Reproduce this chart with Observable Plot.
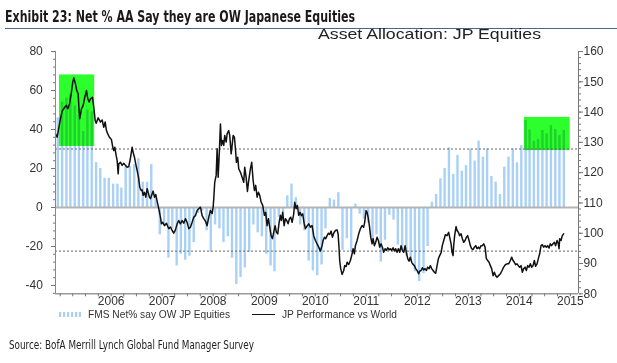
<!DOCTYPE html>
<html><head><meta charset="utf-8">
<script src="https://cdn.jsdelivr.net/npm/d3@7"></script>
<script src="https://cdn.jsdelivr.net/npm/@observablehq/plot@0.6"></script>
<style>
body{margin:0;background:#fff;width:617px;height:363px;position:relative;overflow:hidden;font-family:"Liberation Sans",Arial,sans-serif;color:#333}
.abs{position:absolute;white-space:nowrap;transform-origin:0 0}
#title{left:5px;top:8.5px;font-weight:bold;font-size:16px;line-height:16px;font-family:"Liberation Sans Narrow","DejaVu Sans Condensed",sans-serif;color:#1a1a1a}
#rule{left:5px;top:28px;width:612px;height:0;border-top:1px solid #4a6490}
#subtitle{left:318px;top:26.3px;font-size:15px;line-height:15px;color:#222}
#chart{left:0;top:40px}
#leg1sw{left:59px;top:311.5px;line-height:0}
#leg1sw svg{display:block}
#leg1{left:87.7px;top:310px;font-size:10px;line-height:10px;color:#333}
#leg2sw{left:252px;top:313.5px;width:23px;height:0;border-top:1.5px solid #111}
#leg2{left:281.7px;top:310px;font-size:10px;line-height:10px;color:#333}
#source{left:8.7px;top:337.7px;font-size:12.5px;line-height:13px;font-family:"Liberation Sans Narrow","DejaVu Sans Condensed",sans-serif;color:#222}
</style></head>
<body>
<div id="title" class="abs">Exhibit 23: Net % AA Say they are OW Japanese Equities</div>
<div id="rule" class="abs"></div>
<div id="subtitle" class="abs">Asset Allocation: JP Equities</div>
<div id="chart" class="abs"></div>
<div id="leg1sw" class="abs"><svg width="22" height="5"><g fill="#a9d1f7"><rect x="0" y="0" width="2.2" height="5"/><rect x="4" y="0" width="2.2" height="5"/><rect x="8" y="0" width="2.2" height="5"/><rect x="12" y="0" width="2.2" height="5"/><rect x="16" y="0" width="2.2" height="5"/><rect x="19.8" y="0" width="2.2" height="5"/></g></svg></div>
<div id="leg1" class="abs">FMS Net% say OW JP Equities</div>
<div id="leg2sw" class="abs"></div>
<div id="leg2" class="abs">JP Performance vs World</div>
<div id="source" class="abs">Source: BofA Merrill Lynch Global Fund Manager Survey</div>
<script>
// FMS net % overweight Japanese equities, monthly from Dec 2004 to Nov 2014
const fmsFirstMonth = [2004, 11];
const fmsValues = [46,54,56,58,52,47,39,50,49,23,20,15,15,12,12,10,21,21,22,25,13,13,22,6,-14,-9,-26,-11,-30,-24,-27,-25,-18,-3,-2,-12,-23,-9,-11,-18,-15,-26,-39.5,-36,-31,-23,-9,-13,-15,-24,-30,-33,-5,-4,6,12,5,-9,-12,-27.5,-32.5,-35,-29.5,-11,4.6,3.8,7.6,-22,-16,-23,1.7,-3.4,-6,-8,-18.5,-14,-28,-16.8,-4,-6.5,-19.3,-22,-25,-27.8,-33,-38,-34,-20,2.7,6.7,14.7,20,30.6,17,26.7,18.6,21.5,30,23.8,34,25.8,30,15.9,13,6.7,20.7,25.8,30,22.9,31.8,44.6,39.8,34,34.9,39.5,37.8,42,40,37,39.5];

// JP performance vs World (right axis), [decimal year, value]
const perfPoints = [[2004.908,132.8],[2004.941,131.7],[2005.006,137.8],[2005.039,140.3],[2005.090,141.6],[2005.118,142.2],[2005.149,141.1],[2005.182,142.7],[2005.216,146],[2005.247,149.9],[2005.267,151.3],[2005.300,149.3],[2005.325,147.1],[2005.353,146],[2005.372,140],[2005.384,137.8],[2005.418,141.1],[2005.451,142.2],[2005.482,144.9],[2005.516,147.1],[2005.541,144.4],[2005.568,143.3],[2005.594,144.4],[2005.633,144.9],[2005.659,141.6],[2005.686,137.2],[2005.706,136.3],[2005.745,138.1],[2005.790,136.7],[2005.823,137.4],[2005.854,135],[2005.882,136.7],[2005.907,133.9],[2005.933,132.8],[2005.966,131.7],[2006.005,130.9],[2006.031,128.4],[2006.050,127.3],[2006.070,128.4],[2006.097,125.7],[2006.117,124],[2006.137,119.6],[2006.148,122.9],[2006.182,123.4],[2006.215,122.4],[2006.246,123.1],[2006.280,122.4],[2006.313,121.8],[2006.344,122],[2006.378,124.9],[2006.411,128.4],[2006.430,126.7],[2006.456,125.1],[2006.481,122.9],[2006.509,120.7],[2006.534,118.5],[2006.560,115.2],[2006.587,114.1],[2006.607,114.3],[2006.626,112.5],[2006.652,113.5],[2006.677,111.9],[2006.705,114.7],[2006.724,113.5],[2006.750,111.9],[2006.769,111.4],[2006.803,113],[2006.822,113.9],[2006.848,111.9],[2006.873,112.8],[2006.901,110.5],[2006.932,108.1],[2006.965,105.3],[2006.985,103.1],[2007.010,103.6],[2007.044,102.5],[2007.083,103.3],[2007.128,101.5],[2007.161,102],[2007.195,100.9],[2007.226,100],[2007.259,101.1],[2007.293,103.1],[2007.324,104.2],[2007.357,103.1],[2007.391,104.2],[2007.422,103.3],[2007.455,104.8],[2007.488,103.6],[2007.520,101.5],[2007.553,102],[2007.586,103.6],[2007.618,105.3],[2007.651,105.8],[2007.684,107.5],[2007.716,108.1],[2007.749,108.6],[2007.782,105.8],[2007.814,104.8],[2007.847,104],[2007.880,102.5],[2007.912,105.3],[2007.945,107.5],[2007.978,106.5],[2007.998,108.6],[2008.010,111.4],[2008.029,116.8],[2008.057,119.1],[2008.076,127.9],[2008.096,118.5],[2008.121,127.3],[2008.141,136.1],[2008.161,129],[2008.186,130.6],[2008.206,129],[2008.225,132.3],[2008.253,130.1],[2008.272,132.8],[2008.303,133.9],[2008.323,132.3],[2008.351,126.2],[2008.370,129],[2008.390,132.3],[2008.415,131.7],[2008.435,127.9],[2008.454,123.4],[2008.480,125.1],[2008.499,121.3],[2008.533,120.1],[2008.566,118.5],[2008.597,116.8],[2008.617,121.8],[2008.644,118.5],[2008.670,113.8],[2008.695,117.4],[2008.729,121.3],[2008.754,123.4],[2008.782,117.4],[2008.807,114.1],[2008.832,115.8],[2008.860,111.9],[2008.885,113.5],[2008.911,112.5],[2008.938,110.3],[2008.970,109.2],[2009.003,105.9],[2009.028,106.9],[2009.056,102.5],[2009.081,104.8],[2009.107,102],[2009.134,99.2],[2009.160,98.2],[2009.185,100.3],[2009.213,102.5],[2009.238,100.3],[2009.264,99.8],[2009.291,103.6],[2009.316,105.9],[2009.336,104.2],[2009.361,106.9],[2009.389,102.5],[2009.414,104.8],[2009.440,104.2],[2009.467,103.1],[2009.493,104.8],[2009.518,105.3],[2009.546,103.6],[2009.577,106.4],[2009.597,110.2],[2009.624,108.1],[2009.649,109.2],[2009.675,105.9],[2009.702,106.9],[2009.728,105.8],[2009.753,106.4],[2009.781,103.3],[2009.806,101.5],[2009.832,102.2],[2009.871,103.1],[2009.904,102],[2009.937,102.5],[2009.969,99.2],[2010.002,97.6],[2010.035,96.5],[2010.067,95.4],[2010.100,94.1],[2010.133,95.9],[2010.153,97.6],[2010.179,98.7],[2010.204,98.2],[2010.231,99.2],[2010.257,100],[2010.282,99.6],[2010.310,100.7],[2010.335,98.7],[2010.361,100],[2010.394,100.9],[2010.427,101.1],[2010.447,99.8],[2010.466,94.9],[2010.478,91],[2010.498,88.3],[2010.525,86.4],[2010.557,87.7],[2010.576,89.3],[2010.604,89],[2010.623,90.4],[2010.655,89.7],[2010.688,91],[2010.721,93.2],[2010.741,94.9],[2010.766,93.2],[2010.786,95.9],[2010.819,97.6],[2010.851,99.8],[2010.884,101.5],[2010.917,102.5],[2010.948,102],[2010.968,103.6],[2010.995,107.5],[2011.015,106.9],[2011.035,105.3],[2011.060,102.5],[2011.086,98.7],[2011.113,96.5],[2011.133,98.2],[2011.158,95.9],[2011.184,97],[2011.211,98.7],[2011.236,97.6],[2011.262,95.4],[2011.289,96.5],[2011.315,95.4],[2011.340,93.7],[2011.368,94.9],[2011.393,94.3],[2011.419,95.2],[2011.446,94.5],[2011.472,94.9],[2011.497,94.3],[2011.524,95.2],[2011.550,94.1],[2011.575,94.9],[2011.603,93.7],[2011.628,94.9],[2011.654,93.7],[2011.681,95.9],[2011.707,94.3],[2011.732,93.7],[2011.760,95.9],[2011.785,93.7],[2011.811,91.6],[2011.838,90.8],[2011.863,92.1],[2011.889,90.4],[2011.916,89.7],[2011.942,89.3],[2011.967,88.3],[2011.995,87.7],[2012.026,86.6],[2012.046,87.5],[2012.073,87.7],[2012.099,88.6],[2012.124,87.9],[2012.151,88.3],[2012.177,87.7],[2012.202,88.8],[2012.230,88.3],[2012.255,89.3],[2012.281,88.3],[2012.308,87.7],[2012.334,87.1],[2012.359,86.8],[2012.387,89.3],[2012.412,91.6],[2012.437,92.6],[2012.465,93.5],[2012.490,96],[2012.516,97.5],[2012.549,99.5],[2012.582,99.2],[2012.614,100.3],[2012.633,98.7],[2012.661,96.5],[2012.680,93.7],[2012.700,92.6],[2012.712,95.9],[2012.731,99.2],[2012.759,102.2],[2012.778,100.9],[2012.804,100.3],[2012.829,99.2],[2012.857,99.8],[2012.882,98.2],[2012.908,97],[2012.935,97.6],[2012.961,98.7],[2012.986,99.2],[2013.014,97.6],[2013.039,95.9],[2013.064,94.9],[2013.092,94.6],[2013.117,95.4],[2013.143,95.9],[2013.170,94.9],[2013.196,95.4],[2013.221,94.9],[2013.249,95.9],[2013.274,95.9],[2013.300,96.5],[2013.327,95.4],[2013.352,91.6],[2013.378,91],[2013.405,90.4],[2013.431,89.3],[2013.456,88.3],[2013.484,86],[2013.509,87.1],[2013.535,86],[2013.562,85.5],[2013.593,86],[2013.627,86.6],[2013.660,87.7],[2013.691,88.8],[2013.725,89.6],[2013.758,89.9],[2013.789,89.9],[2013.823,91],[2013.848,92.1],[2013.875,91],[2013.901,90.4],[2013.926,89.6],[2013.954,89.9],[2013.979,89.3],[2014.005,88.8],[2014.032,89.3],[2014.058,87.1],[2014.083,88.3],[2014.111,88.8],[2014.136,87.7],[2014.162,89.3],[2014.189,88.8],[2014.215,89.9],[2014.240,88.8],[2014.267,89.3],[2014.293,91],[2014.318,89.1],[2014.346,89.9],[2014.371,91.6],[2014.397,93.2],[2014.424,95.9],[2014.449,96.2],[2014.475,95.4],[2014.502,95.9],[2014.528,95.4],[2014.553,95.9],[2014.581,95.1],[2014.606,96.5],[2014.632,95.9],[2014.659,96.5],[2014.685,97],[2014.710,95.9],[2014.738,97.6],[2014.763,96.5],[2014.777,94.9],[2014.789,98.2],[2014.816,97.6],[2014.841,99.2],[2014.867,99.8]];

// highlighted periods (left-axis units)
const highlightBoxes = [
  {start: "2004-12-27", end: "2005-09-05", low: 31.3, high: 68},
  {start: "2014-02-06", end: "2014-12-31", low: 29.2, high: 46.2}
];
const fmsThreshold = 30;     // left axis
const perfAverage = 94.1;    // right axis

const leftMajor = [-40, -20, 0, 20, 40, 60, 80];
const rightMajor = [80, 90, 100, 110, 120, 130, 140, 150, 160];
const yearLabels = [2006, 2007, 2008, 2009, 2010, 2011, 2012, 2013, 2014, 2015];

// ---- layout / scales ----
const leftDomain = [-44.26, 80];
const rightDomain = [80, 160];
const xDomain = [new Date(Date.UTC(2004, 10, 28, 14)), new Date(Date.UTC(2015, 1, 28, 7))];
const toLeft = r => leftDomain[0] + (r - rightDomain[0]) / (rightDomain[1] - rightDomain[0]) * (leftDomain[1] - leftDomain[0]);
const fromLeft = l => rightDomain[0] + (l - leftDomain[0]) / (leftDomain[1] - leftDomain[0]) * (rightDomain[1] - rightDomain[0]);
const yearToDate = t => new Date(Date.UTC(2005, 0, 1) + (t - 2005) * 365.25 * 864e5);

const fms = fmsValues.map((v, i) => ({date: new Date(Date.UTC(fmsFirstMonth[0], fmsFirstMonth[1] + i, 15)), value: v}));
const perf = perfPoints.map(([t, r]) => ({date: yearToDate(t), value: r}));
const leftMinor = d3.range(-44, 81, 4);
const rightMinor = d3.range(80, 161, 2);
const quarterTicks = d3.utcMonth.every(3).range(xDomain[0], xDomain[1]);
const yearTicks = yearLabels.map(y => new Date(Date.UTC(y, 0, 1)));
const noLabel = () => "";

const chart = Plot.plot({
  width: 617, height: 268,
  marginLeft: 55, marginRight: 39, marginTop: 11, marginBottom: 14.7,
  style: {fontFamily: '"Liberation Sans", Arial, sans-serif', fontSize: "12px", color: "#333", background: "transparent", overflow: "visible"},
  x: {type: "utc", domain: xDomain},
  y: {domain: leftDomain},
  marks: [
    Plot.ruleX(fms, {x: "date", y1: 0, y2: "value", stroke: "#a9d1f7", strokeWidth: 2.4}),
    Plot.rect(highlightBoxes, {x1: d => new Date(d.start), x2: d => new Date(d.end), y1: "low", y2: "high", fill: "#2cff2c", mixBlendMode: "multiply"}),
    Plot.ruleY([0], {stroke: "#b4b4b4", strokeWidth: 2}),
    Plot.ruleY([fmsThreshold, toLeft(perfAverage)], {stroke: "#666", strokeDasharray: "2,2", strokeWidth: 1}),
    Plot.line(perf, {x: "date", y: d => toLeft(d.value), stroke: "#111", strokeWidth: 1.5}),
    Plot.ruleX([xDomain[0]], {stroke: "#888"}),
    Plot.ruleX([xDomain[1]], {stroke: "#777"}),
    Plot.ruleY([leftDomain[0]], {stroke: "#999", strokeWidth: 1.5}),
    Plot.axisY({anchor: "left", ticks: leftMinor, tickSize: 2, tickFormat: noLabel, stroke: "#777", label: null}),
    Plot.axisY({anchor: "left", ticks: leftMajor, tickSize: 4, tickPadding: 8.7, tickFormat: d => String(d), stroke: "#777", fill: "#333", label: null}),
    Plot.axisY({anchor: "right", ticks: rightMinor.map(toLeft), tickSize: 2, tickFormat: noLabel, stroke: "#777", label: null}),
    Plot.axisY({anchor: "right", ticks: rightMajor.map(toLeft), tickSize: 4, tickPadding: 1, tickFormat: d => String(Math.round(fromLeft(d))), stroke: "#777", fill: "#333", label: null}),
    Plot.axisX({anchor: "bottom", ticks: quarterTicks, tickSize: 3, tickFormat: noLabel, stroke: "#777", label: null}),
    Plot.axisX({anchor: "bottom", ticks: yearTicks, tickSize: 0, tickPadding: 3, tickFormat: d => String(d.getUTCFullYear()), fill: "#333", label: null})
  ]
});
document.getElementById("chart").appendChild(chart);

function fit(id, w) {
  const el = document.getElementById(id);
  const cw = el.getBoundingClientRect().width;
  if (cw > 0) el.style.transform = `scaleX(${w / cw})`;
}
fit("title", 350);
fit("subtitle", 223);
fit("leg1", 142);
fit("leg2", 115);
fit("source", 245);
</script>
</body></html>
